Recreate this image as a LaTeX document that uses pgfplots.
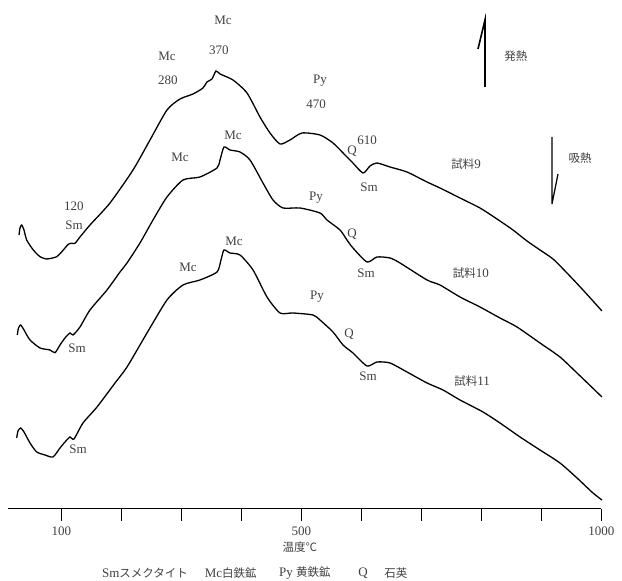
\documentclass[border=0pt]{standalone}
\usepackage{pgfplots}
\pgfplotsset{compat=1.18}
\usepackage{fontspec}
\setmainfont{Liberation Serif}
\newfontfamily\jp{Noto Sans CJK JP}
\newcommand\J[1]{{\fontsize{11.5}{13}\selectfont\jp #1}}
\definecolor{txt}{HTML}{404040}
\tikzset{lab/.style={font=\fontsize{13}{15}\selectfont, text=txt, inner sep=1pt}}
\pgfplotstableread{
T y
29.2 346
30.8 353
33.7 356
37.5 351
42 341
53 331
64.2 324.3
75.3 322
92 324.3
103 331
111.3 336.7
117 337.7
122.5 337.7
130.8 344
147.5 356
180.8 378
219.2 411
247.5 441
275.8 471
297.5 482
319.2 487
335.8 493
342.5 499
350.8 502
357.5 510
364.2 507
385.8 501
409.2 488
430.8 464
447.5 448
464.2 437
480.8 441
500.8 448
530.8 446
552.5 438
575.8 424
584.2 419
602.5 408
614.2 415
625.8 418
647.5 414
675.8 409
709.2 399
730.8 393
764.2 383
797.5 373
825.8 362
852.5 351
875.8 340
897.5 331
919.2 322
942.5 308
969.2 291
1000.8 270
}\sampleA
\pgfplotstableread{
T y
26.3 246
28.3 253
32 256
37.5 251
47.5 241
64.2 233
80.8 231
89.2 228.3
97.5 236
105.8 243
114.2 248
119.2 246
130.8 254
147.5 271
175.8 291
197.5 309
209.2 318
230.8 338
252.5 361
275.8 384
302.5 401
330.8 404
359.2 413
364.2 421
370.8 434
380.8 431
397.5 429
414.2 421
435.8 398
452.5 381
469.2 373
497.5 373
530.8 368
542.5 361
564.2 351
575.8 341
585.8 333
609.2 319
625.8 324
647.5 323
664.2 318
709.2 301
730.8 296
764.2 284
797.5 274
830.8 263
859.2 254
897.5 238
930.8 224
959.2 208
1000.8 184
}\sampleB
\pgfplotstableread{
T y
25.3 143
27.5 150
32 153
37.5 149
47.5 138
58.7 129
72.5 126
85.8 124
97.5 133
105.8 139
114.2 144
120.8 142
135.8 158
159.2 174
189.2 198
209.2 214
242.5 248
275.8 281
302.5 296
330.8 301
359.2 309
365.8 321
370.8 331
380.8 328
397.5 326
419.2 311
442.5 284
464.2 268
485.8 268
519.2 266
530.8 261
552.5 249
569.2 236
585.8 228
609.2 215
625.8 219
647.5 218
675.8 209
709.2 198
735.8 191
764.2 181
802.5 169
830.8 158
864.2 144
897.5 131
930.8 118
959.2 103
985.8 88
1000.8 81
}\sampleC
\begin{document}
\begin{tikzpicture}
\begin{axis}[
  scale only axis,
  width=593.4pt, height=509pt,
  xmin=11, xmax=1000, ymin=72, ymax=581,
  clip=false,
  axis x line*=bottom,
  axis y line=none,
  axis line style={line width=1pt, black},
  xtick={100,200,...,1000},
  xticklabels={100,,,,500,,,,,1000},
  /pgf/number format/assume math mode=true,
  tick align=outside,
  major tick length=12pt,
  every tick/.style={black, line width=1pt},
  xticklabel style={font=\fontsize{13}{15}\selectfont, text=txt, yshift=-2pt},
]
\path (axis cs:-2.5,0) rectangle (axis cs:1034.2,581);
\addplot[black, line width=1.3pt, smooth, tension=0.4] table[x=T,y=y] {\sampleA};
\addplot[black, line width=1.3pt, smooth, tension=0.4] table[x=T,y=y] {\sampleB};
\addplot[black, line width=1.3pt, smooth, tension=0.4] table[x=T,y=y] {\sampleC};
% labels curve 1
\node[lab] at (axis cs:369.2,561) {Mc};
\node[lab] at (axis cs:362.5,531) {370};
\node[lab] at (axis cs:275.8,525) {Mc};
\node[lab] at (axis cs:277.5,501) {280};
\node[lab] at (axis cs:530.8,500) {Py};
\node[lab] at (axis cs:524.2,477) {470};
\node[lab] at (axis cs:609.2,441) {610};
\node[lab] at (axis cs:584.2,430) {Q};
\node[lab] at (axis cs:612.5,394) {Sm};
\node[lab] at (axis cs:774.2,417) {\J{試料}9};
\node[lab] at (axis cs:120.8,375) {120};
\node[lab] at (axis cs:120.8,356) {Sm};
% curve 2
\node[lab] at (axis cs:385.8,446) {Mc};
\node[lab] at (axis cs:297.5,424) {Mc};
\node[lab] at (axis cs:524.2,383) {Py};
\node[lab] at (axis cs:584.2,347) {Q};
\node[lab] at (axis cs:607.5,308) {Sm};
\node[lab] at (axis cs:782.5,308) {\J{試料}10};
\node[lab] at (axis cs:125.8,233) {Sm};
% curve 3
\node[lab] at (axis cs:387.5,340) {Mc};
\node[lab] at (axis cs:310.8,314) {Mc};
\node[lab] at (axis cs:525.8,284) {Py};
\node[lab] at (axis cs:579.2,247) {Q};
\node[lab] at (axis cs:610.8,205) {Sm};
\node[lab] at (axis cs:784.2,200) {\J{試料}11};
\node[lab] at (axis cs:127.5,132) {Sm};
% arrows
\draw[black, line width=1.6pt] (axis cs:805.8,494) -- (axis cs:805.8,561) -- (axis cs:794.2,532);
\draw[black, line width=1.2pt] (axis cs:917.5,444) -- (axis cs:917.5,377) -- (axis cs:927.5,407);
\node[lab] at (axis cs:857.5,525) {\J{発熱}};
\node[lab] at (axis cs:964.2,423) {\J{吸熱}};
% axis title and legend line
\node[lab] at (axis cs:497.5,34) {\J{温度℃}};
\node[lab] at (axis cs:239.2,8) {Sm\J{スメクタイト}};
\node[lab] at (axis cs:382,8) {Mc\J{白鉄鉱}};
\node[lab] at (axis cs:505.8,8) {Py \J{黄鉄鉱}};
\node[lab] at (axis cs:602.5,8) {Q};
\node[lab] at (axis cs:657.5,8) {\J{石英}};
\end{axis}
\end{tikzpicture}
\end{document}
